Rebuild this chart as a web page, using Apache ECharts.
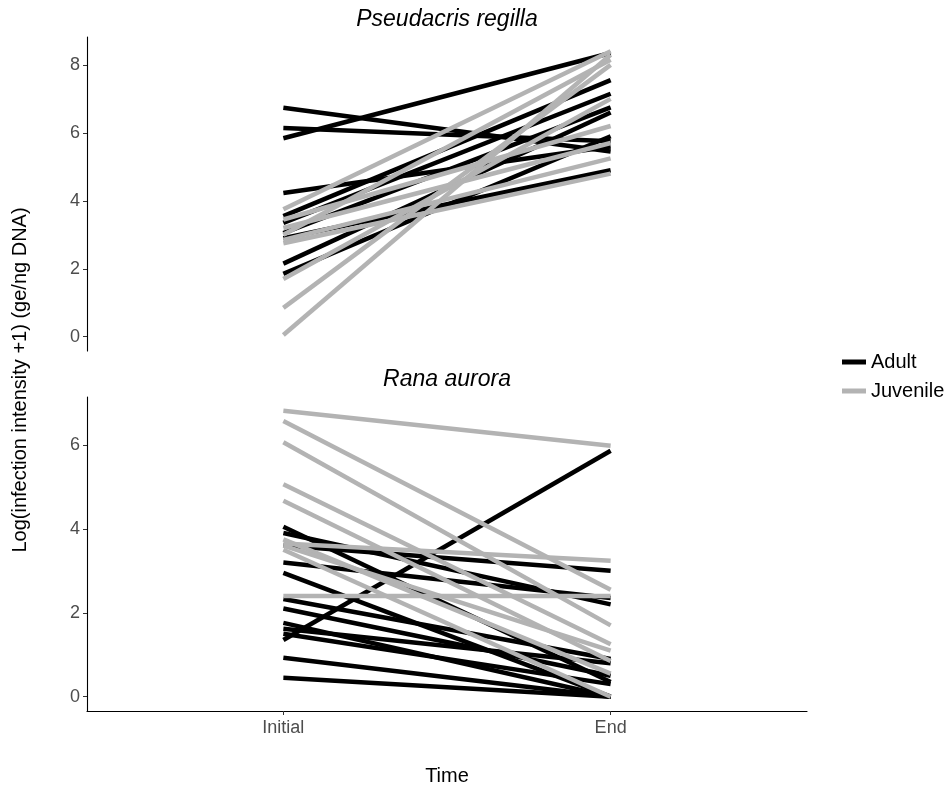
<!DOCTYPE html>
<html>
<head>
<meta charset="utf-8">
<script src="https://cdn.jsdelivr.net/npm/echarts@6.0.0/dist/echarts.min.js"></script>
<style>
  html, body { margin: 0; padding: 0; background: #fff; }
  #chart { width: 952px; height: 792px; }
</style>
</head>
<body>
<div id="chart"></div>
<script>
// x categories
const categories = ['Initial', 'End'];

// [initial, end] pairs
const regillaAdult = [
  [6.74, 5.45], [6.14, 5.75], [5.84, 8.35], [4.23, 5.6], [3.55, 7.55],
  [3.35, 7.15], [3.05, 6.75], [2.9, 4.9], [2.15, 6.6], [1.85, 5.9]
];
const regillaJuvenile = [
  [3.75, 8.4], [3.45, 6.2], [3.2, 5.7], [3.0, 8.15], [2.85, 5.25],
  [2.75, 4.8], [1.7, 7.0], [0.85, 8.0], [0.05, 8.3]
];
const auroraAdult = [
  [4.05, 0.35], [3.9, 2.2], [3.6, 3.0], [3.2, 2.35], [2.95, 0.0],
  [2.33, 0.9], [2.1, 0.5], [1.76, 0.0], [1.62, 0.8], [1.5, 0.3],
  [1.35, 5.86], [0.93, 0.0], [0.45, 0.0]
];
const auroraJuvenile = [
  [6.81, 5.98], [6.57, 2.55], [6.06, 1.7], [5.06, 1.25], [4.67, 0.85],
  [3.75, 0.55], [3.65, 3.24], [3.6, 1.1], [3.5, 0.0], [2.4, 2.4]
];

const yTicksTop = [0, 2, 4, 6, 8];
const yTicksBottom = [0, 2, 4, 6];

const BLACK = '#000000';
const GREY = '#B3B3B3';
const FONT = 'Liberation Sans, Arial, Helvetica, sans-serif';

function lines(pairs, name, color, idx, z) {
  return pairs.map(p => ({
    name: name,
    type: 'line',
    xAxisIndex: idx,
    yAxisIndex: idx,
    data: [[1, p[0]], [2, p[1]]],
    symbol: 'none',
    z: z,
    lineStyle: { color: color, width: 4.5, cap: 'butt' },
    itemStyle: { color: color },
    emphasis: { disabled: true },
    animation: false
  }));
}

function yAxis(idx, min, max, ticks) {
  return {
    type: 'value',
    gridIndex: idx,
    min: min,
    max: max,
    splitLine: { show: false },
    axisLine: { show: true, onZero: false, lineStyle: { color: '#000', width: 1.1 } },
    axisTick: { show: true, length: 4, customValues: ticks, lineStyle: { color: '#333' } },
    axisLabel: { customValues: ticks, color: '#4D4D4D', fontSize: 18, fontFamily: FONT, margin: 7 }
  };
}

const chart = echarts.init(document.getElementById('chart'));
chart.setOption({
  backgroundColor: '#fff',
  animation: false,
  title: [
    { text: 'Pseudacris regilla', left: 447, top: 8, padding: 0, textAlign: 'center',
      textStyle: { fontSize: 23, fontStyle: 'italic', fontWeight: 'normal', color: '#000', fontFamily: FONT } },
    { text: 'Rana aurora', left: 447, top: 368, padding: 0, textAlign: 'center',
      textStyle: { fontSize: 23, fontStyle: 'italic', fontWeight: 'normal', color: '#000', fontFamily: FONT } }
  ],
  legend: {
    orient: 'vertical',
    left: 842,
    top: 352,
    padding: 0,
    itemWidth: 24,
    itemHeight: 5,
    itemGap: 9,
    icon: 'rect',
    data: ['Adult', 'Juvenile'],
    textStyle: { fontSize: 20, color: '#000', fontFamily: FONT }
  },
  grid: [
    { left: 87, top: 37, width: 720, height: 314 },
    { left: 87, top: 397, width: 720, height: 314 }
  ],
  xAxis: [
    { type: 'value', gridIndex: 0, min: 0.4, max: 2.6, show: false },
    {
      type: 'value', gridIndex: 1, min: 0.4, max: 2.6,
      name: 'Time', nameLocation: 'middle', nameGap: 55,
      nameTextStyle: { fontSize: 20, color: '#000', fontFamily: FONT },
      splitLine: { show: false },
      axisLine: { show: true, onZero: false, lineStyle: { color: '#000', width: 1.1 } },
      axisTick: { show: true, length: 4, customValues: [1, 2], lineStyle: { color: '#333' } },
      axisLabel: {
        customValues: [1, 2], color: '#4D4D4D', fontSize: 18, fontFamily: FONT, margin: 8,
        formatter: v => categories[Math.round(v) - 1]
      }
    }
  ],
  yAxis: [
    yAxis(0, -0.42, 8.82, yTicksTop),
    yAxis(1, -0.34, 7.14, yTicksBottom)
  ],
  graphic: [
    {
      type: 'text',
      x: 20, y: 380,
      rotation: Math.PI / 2,
      style: {
        text: 'Log(infection intensity +1) (ge/ng DNA)',
        fontSize: 20, fill: '#000', fontFamily: FONT,
        align: 'center', verticalAlign: 'middle'
      }
    }
  ],
  series: [].concat(
    lines(regillaAdult, 'Adult', BLACK, 0, 2),
    lines(regillaJuvenile, 'Juvenile', GREY, 0, 3),
    lines(auroraAdult, 'Adult', BLACK, 1, 2),
    lines(auroraJuvenile, 'Juvenile', GREY, 1, 3)
  )
});
</script>
</body>
</html>
